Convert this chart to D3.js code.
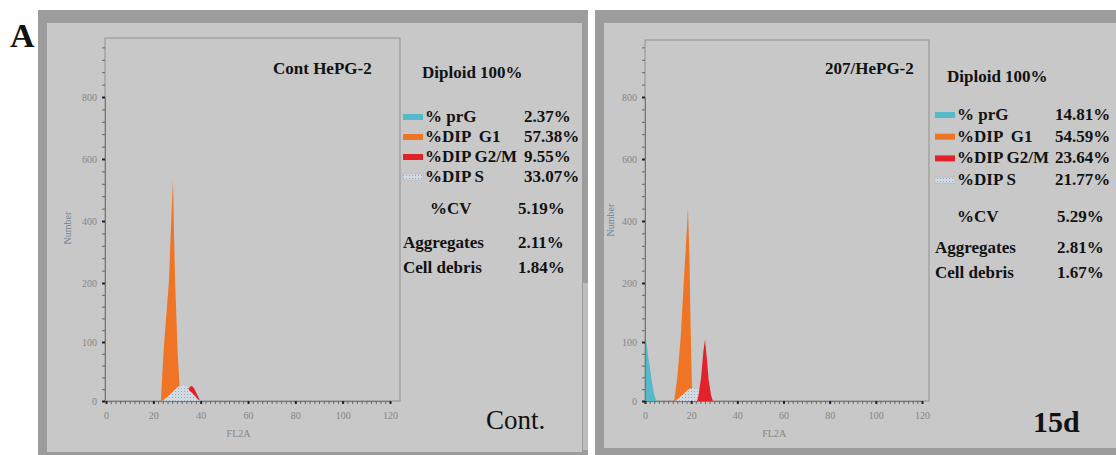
<!DOCTYPE html>
<html lang="en">
<head>
<meta charset="utf-8">
<title>Cell cycle histograms</title>
<script src="https://d3js.org/d3.v7.min.js"></script>
<style>
  body { margin: 0; background: #fff; }
  svg text { font-family: "Liberation Serif", "Times New Roman", serif; }
</style>
</head>
<body>
<script>
// ---- data ----
var fl2aTicks = [0, 20, 40, 60, 80, 100, 120];
var countTicks = [0, 100, 200, 400, 600, 800];

var phaseNames = ["% prG", "%DIP  G1", "%DIP G2/M", "%DIP S"];
var statNames = ["%CV", "Aggregates", "Cell debris"];

var contPhasePct = ["2.37%", "57.38%", "9.55%", "33.07%"];
var contStats = ["5.19%", "2.11%", "1.84%"];
var d15PhasePct = ["14.81%", "54.59%", "23.64%", "21.77%"];
var d15Stats = ["5.29%", "2.81%", "1.67%"];

// histogram outlines: [FL2A channel, count]
var contG1 = [[23.2, 0], [24.4, 90], [26.6, 205], [27.4, 371], [28.3, 532], [28.7, 371], [29.2, 205], [30.3, 80], [31.2, 17], [31.8, 0]];
var contS = [[23.7, 0], [26, 7], [28, 15], [30, 23], [32.1, 27], [34, 25], [36, 19], [38, 10], [39.9, 0]];
// G2/M sliver sitting on the S hump (outline: upper edge then lower edge back)
var contG2 = [[34.8, 21], [35.6, 24], [36.3, 26], [37.3, 21], [38.5, 11], [39.7, 1], [38.7, 3], [37.5, 9], [36.3, 14], [35.2, 18]];

var d15PrG = [[0, 110], [0.8, 95], [1.5, 72], [2.2, 55], [3, 32], [3.9, 12], [4.6, 4], [5.2, 0]];
var d15G1 = [[12.6, 0], [14, 40], [15.5, 110], [17, 230], [18.2, 380], [18.6, 442], [19.2, 300], [19.8, 120], [20.3, 30], [21, 0]];
var d15S = [[13, 0], [15, 6], [17, 13], [19, 20], [20.8, 23], [23, 20], [25, 14], [27, 7], [29, 0]];
var d15G2 = [[22.6, 0], [23.2, 10], [24.3, 40], [25.3, 85], [26, 104], [26.6, 80], [27.6, 35], [28.6, 10], [29.4, 0]];

var colors = { prG: "#55b9c9", G1: "#ef7525", G2: "#e2212b", S: "#d4dae2" };

var svg = d3.select("body").append("svg")
    .attr("width", 1116).attr("height", 455);

var defs = svg.append("defs");
var pat = defs.append("pattern").attr("id", "dots")
    .attr("width", 3).attr("height", 3).attr("patternUnits", "userSpaceOnUse");
pat.append("rect").attr("width", 3).attr("height", 3).attr("fill", colors.S);
pat.append("rect").attr("x", 1).attr("y", 1).attr("width", 1).attr("height", 1).attr("fill", "#97a6b8");

svg.append("text").attr("x", 10).attr("y", 47)
    .style("font-size", "34px").style("font-weight", "bold").attr("fill", "#111")
    .text("A");

function drawPanel(p) {
    var g = svg.append("g");

    // panel frame
    g.append("rect").attr("x", p.outer[0]).attr("y", p.outer[1])
        .attr("width", p.outer[2]).attr("height", p.outer[3]).attr("fill", "#9c9c9c");
    g.append("rect").attr("x", p.inner[0]).attr("y", p.inner[1])
        .attr("width", p.inner[2]).attr("height", p.inner[3]).attr("fill", "#c8c8c8");
    if (p.strip) {
        g.append("rect").attr("x", p.strip[0]).attr("y", p.strip[1])
            .attr("width", p.strip[2]).attr("height", p.strip[3]).attr("fill", "#bdbdbd");
    }

    var x = d3.scaleLinear().domain([0, 120]).range([p.x0, p.x120]);
    var y = d3.scaleLinear().domain([0, 200, 800]).range([p.base, 283, 97]);

    // plot box
    g.append("rect").attr("x", p.left).attr("y", p.top)
        .attr("width", p.right - p.left).attr("height", p.base - p.top)
        .attr("fill", "none").attr("stroke", "#8f8f8f").attr("stroke-width", 1);

    // histograms
    var area = d3.area()
        .x(function (d) { return x(d[0]); })
        .y0(y(0))
        .y1(function (d) { return y(d[1]); });
    var line = d3.line()
        .x(function (d) { return x(d[0]); })
        .y(function (d) { return y(d[1]); });
    p.hist.forEach(function (h) {
        g.append("path").datum(h.data)
            .attr("d", h.closed ? line(h.data) + "Z" : area)
            .attr("fill", h.fill);
    });

    // minor ticks
    var yMinor = d3.range(0, 200, 20).concat(d3.range(200, 1000, 40));
    g.append("g").attr("transform", "translate(" + p.left + ",0)")
        .call(d3.axisLeft(y).tickValues(yMinor.filter(function (v) { return y(v) > p.top; }))
            .tickSize(3).tickFormat(""))
        .call(function (a) {
            a.select(".domain").attr("stroke", "#777");
            a.selectAll("line").attr("stroke", "#666");
        });
    g.append("g").attr("transform", "translate(0," + p.base + ")")
        .call(d3.axisBottom(x).tickValues(d3.range(0, 122, 2)).tickSize(3).tickFormat(""))
        .call(function (a) {
            a.select(".domain").attr("stroke", "#777");
            a.selectAll("line").attr("stroke", "#666");
        });

    // major ticks + labels
    g.append("g").attr("transform", "translate(" + p.left + ",0)")
        .call(d3.axisLeft(y).tickValues(countTicks).tickSize(3).tickPadding(5))
        .call(function (a) {
            a.select(".domain").remove();
            a.selectAll("line").attr("stroke", "#222").attr("stroke-width", 2);
            a.selectAll("text").attr("fill", "#858585")
                .style("font-family", "Liberation Serif, serif").style("font-size", "10px");
        });
    g.append("g").attr("transform", "translate(0," + p.base + ")")
        .call(d3.axisBottom(x).tickValues(fl2aTicks).tickSize(3).tickPadding(8))
        .call(function (a) {
            a.select(".domain").remove();
            a.selectAll("line").attr("stroke", "#222").attr("stroke-width", 2);
            a.selectAll("text").attr("fill", "#858585")
                .style("font-family", "Liberation Serif, serif").style("font-size", "10px");
        });

    // axis titles
    g.append("text").attr("transform", "translate(" + p.ylabX + "," + p.ylabY + ") rotate(-90)")
        .attr("text-anchor", "middle").attr("fill", "#6f8196")
        .style("font-size", "10px").text("Number");
    g.append("text").attr("x", x(56)).attr("y", 437)
        .attr("text-anchor", "middle").attr("fill", "#858585")
        .style("font-size", "10px").text("FL2A");

    // title
    g.append("text").attr("x", p.titleX).attr("y", 74)
        .style("font-size", "17px").style("font-weight", "bold").attr("fill", "#111")
        .text(p.title);

    // legend block
    var L = p.legend;
    g.append("text").attr("x", L.headX).attr("y", L.headY)
        .style("font-size", "17px").style("font-weight", "bold").attr("fill", "#111")
        .text("Diploid 100%");
    var swatch = [colors.prG, colors.G1, colors.G2, "url(#dots)"];
    phaseNames.forEach(function (name, i) {
        var cy = L.rowY + i * L.rowGap;
        g.append("rect").attr("x", L.swX).attr("y", cy - 3).attr("width", 20).attr("height", 6)
            .attr("fill", swatch[i]).attr("stroke", i === 3 ? "#aab2bc" : "none").attr("stroke-width", 0.5);
        g.append("text").attr("x", L.swX + 22).attr("y", cy + 5)
            .style("font-size", "17px").style("font-weight", "bold").style("white-space", "pre")
            .attr("fill", "#111").text(name);
        g.append("text").attr("x", L.valX).attr("y", cy + 5)
            .style("font-size", "17px").style("font-weight", "bold")
            .attr("fill", "#111").text(p.pct[i]);
    });
    statNames.forEach(function (name, i) {
        var cy = L.statY[i];
        g.append("text").attr("x", i === 0 ? L.cvX : L.swX).attr("y", cy + 5)
            .style("font-size", "17px").style("font-weight", "bold")
            .attr("fill", "#111").text(name);
        g.append("text").attr("x", L.statValX).attr("y", cy + 5)
            .style("font-size", "17px").style("font-weight", "bold")
            .attr("fill", "#111").text(p.stats[i]);
    });

    // corner tag
    g.append("text").attr("x", p.tag.x).attr("y", p.tag.y)
        .style("font-size", p.tag.size).style("font-weight", p.tag.weight)
        .attr("fill", "#111").text(p.tag.text);
}

drawPanel({
    outer: [38, 10, 550, 445], inner: [47, 23, 535, 429], strip: [583, 283, 5, 167],
    x0: 106, x120: 390, left: 105, right: 400, top: 38, base: 401,
    ylabX: 71, ylabY: 228,
    title: "Cont HePG-2", titleX: 273,
    hist: [
        { data: contG1, fill: colors.G1 },
        { data: contS, fill: "url(#dots)" },
        { data: contG2, fill: colors.G2, closed: true }
    ],
    pct: contPhasePct, stats: contStats,
    legend: { headX: 422, headY: 78, swX: 403, rowY: 117, rowGap: 20, valX: 524,
              cvX: 430, statY: [209, 243, 268], statValX: 518 },
    tag: { text: "Cont.", x: 486, y: 429, size: "27px", weight: "normal" }
});

drawPanel({
    outer: [595, 10, 521, 445], inner: [604, 23, 512, 425],
    x0: 645, x120: 922, left: 645, right: 929, top: 40, base: 401,
    ylabX: 614, ylabY: 220,
    title: "207/HePG-2", titleX: 825,
    hist: [
        { data: d15PrG, fill: colors.prG },
        { data: d15G1, fill: colors.G1 },
        { data: d15S, fill: "url(#dots)" },
        { data: d15G2, fill: colors.G2 }
    ],
    pct: d15PhasePct, stats: d15Stats,
    legend: { headX: 947, headY: 82, swX: 935, rowY: 115, rowGap: 21.7, valX: 1055,
              cvX: 957, statY: [217, 248, 273], statValX: 1057 },
    tag: { text: "15d", x: 1033, y: 432, size: "30px", weight: "bold" }
});
</script>
</body>
</html>
